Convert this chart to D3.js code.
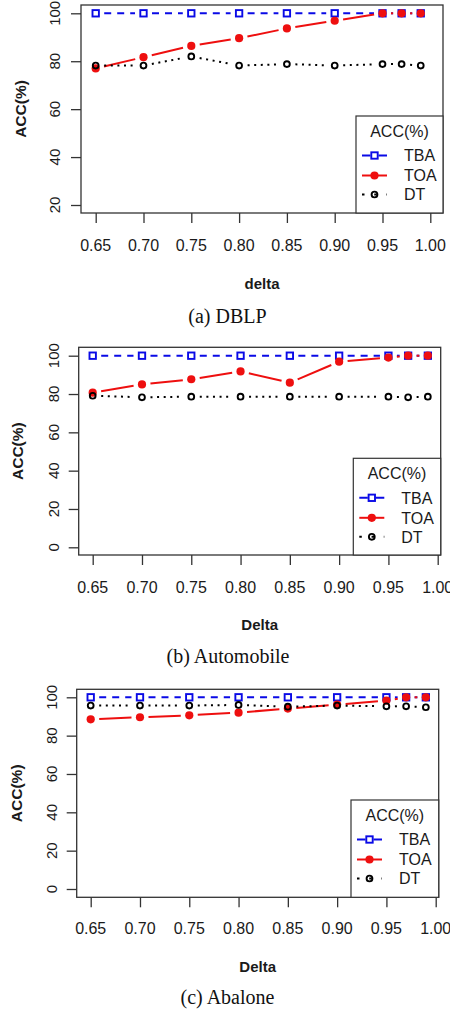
<!DOCTYPE html>
<html>
<head>
<meta charset="utf-8">
<script src="https://cdn.jsdelivr.net/npm/d3@7/dist/d3.min.js"></script>
<style>
  html, body { margin: 0; padding: 0; background: #fff; }
  svg { display: block; }
</style>
</head>
<body>
<svg id="chart" width="450" height="1014"></svg>
<script>
// ---------------- DATA ----------------
const deltas = [0.65, 0.70, 0.75, 0.80, 0.85, 0.90, 0.95, 0.97, 0.99];
const xTickValues = [0.65, 0.70, 0.75, 0.80, 0.85, 0.90, 0.95, 1.00];
const seriesNames = ["TBA", "TOA", "DT"];
const legendTitle = "ACC(%)";
const yTitle = "ACC(%)";

// (a) DBLP
const dblpTBA = [100, 100, 100, 100, 100, 100, 100, 100, 100];
const dblpTOA = [77.0, 81.7, 86.4, 89.6, 93.7, 96.9, 100, 100, 100];
const dblpDT  = [78.2, 78.2, 82.0, 78.2, 78.8, 78.2, 78.8, 78.8, 78.2];
const dblpYTicks = [20, 40, 60, 80, 100];

// (b) Automobile
const autoTBA = [100, 100, 100, 100, 100, 100, 100, 100, 100];
const autoTOA = [80.7, 85.0, 87.7, 91.8, 85.9, 96.9, 99.0, 100, 100];
const autoDT  = [79.1, 78.3, 78.6, 78.6, 78.6, 78.6, 78.6, 78.3, 78.6];
const autoYTicks = [0, 20, 40, 60, 80, 100];

// (c) Abalone
const abaTBA = [100, 100, 100, 100, 100, 100, 100, 100, 100];
const abaTOA = [88.5, 89.6, 90.6, 92.0, 94.1, 96.2, 98.3, 100, 100];
const abaDT  = [95.7, 95.7, 95.7, 96.0, 95.1, 95.7, 95.3, 95.3, 94.8];
const abaYTicks = [0, 20, 40, 60, 80, 100];

const panelsData = [
  { caption: "(a) DBLP", xTitle: "delta", yDomain: [20, 100], yTicks: dblpYTicks,
    series: [dblpTBA, dblpTOA, dblpDT] },
  { caption: "(b) Automobile", xTitle: "Delta", yDomain: [0, 100], yTicks: autoYTicks,
    series: [autoTBA, autoTOA, autoDT] },
  { caption: "(c) Abalone", xTitle: "Delta", yDomain: [0, 100], yTicks: abaYTicks,
    series: [abaTBA, abaTOA, abaDT] }
];

// ---------------- LAYOUT ----------------
const layouts = [
  { box: [81, 5, 443, 213], xr: [95.7, 430.3], yr: [205, 13.3],
    xTickY: 251, xTitleY: 288.5, capY: 323, capX: 227.5, yLabX: 60, yTitleX: 26,
    leg: [356, 116] },
  { box: [78.7, 347.3, 440.7, 555], xr: [92.7, 437.7], yr: [547.3, 355.7],
    xTickY: 592.5, xTitleY: 629.5, capY: 663, capX: 228, yLabX: 59, yTitleX: 23,
    leg: [353.3, 458.3] },
  { box: [76.7, 689.3, 438.7, 897.3], xr: [90.7, 435.7], yr: [889, 697.3],
    xTickY: 934, xTitleY: 972, capY: 1004, capX: 227.5, yLabX: 57, yTitleX: 22,
    leg: [351, 800] }
];

const styles = [
  { color: "#0a0ae6", dash: "7,6", legDash: "8.5,8", marker: "square" },
  { color: "#ee0f0f", dash: null, legDash: null, marker: "dot" },
  { color: "#000000", dash: "2,4.6", legDash: "2.5,9.75", marker: "circle" }
];

const sans = "'Liberation Sans', Arial, Helvetica, sans-serif";
const serif = "'Liberation Serif', 'Times New Roman', serif";
const axisCol = "#333";
const textCol = "#1a1a1a";
const GAP = 8.5;

const svg = d3.select("#chart");

function drawMarker(g, type, x, y, color) {
  if (type === "square") {
    g.append("rect").attr("x", x - 3.2).attr("y", y - 3.2)
      .attr("width", 6.4).attr("height", 6.4)
      .attr("fill", "none").attr("stroke", color).attr("stroke-width", 1.9);
  } else if (type === "dot") {
    g.append("circle").attr("cx", x).attr("cy", y).attr("r", 4.1).attr("fill", color);
  } else {
    g.append("circle").attr("cx", x).attr("cy", y).attr("r", 2.9)
      .attr("fill", "none").attr("stroke", color).attr("stroke-width", 1.9);
  }
}

panelsData.forEach((pd, pi) => {
  const L = layouts[pi];
  const [bx0, by0, bx1, by1] = L.box;
  const x = d3.scaleLinear().domain([0.65, 1.00]).range(L.xr);
  const y = d3.scaleLinear().domain(pd.yDomain).range(L.yr);
  const g = svg.append("g");

  // plot box
  g.append("rect").attr("x", bx0).attr("y", by0)
    .attr("width", bx1 - bx0).attr("height", by1 - by0)
    .attr("fill", "none").attr("stroke", axisCol).attr("stroke-width", 1.3);

  // x axis ticks
  const xa = g.append("g").attr("transform", `translate(0,${by1})`)
    .call(d3.axisBottom(x).tickValues(xTickValues).tickSize(10).tickFormat(""));
  xa.select(".domain").remove();
  xa.selectAll("line").attr("stroke", axisCol).attr("stroke-width", 1.3);
  g.selectAll(null).data(xTickValues).enter().append("text")
    .attr("x", d => x(d)).attr("y", L.xTickY)
    .attr("text-anchor", "middle").attr("font-family", sans).attr("font-size", 16)
    .attr("fill", textCol).text(d => d3.format(".2f")(d));

  // y axis ticks
  const ya = g.append("g").attr("transform", `translate(${bx0},0)`)
    .call(d3.axisLeft(y).tickValues(pd.yTicks).tickSize(10).tickFormat(""));
  ya.select(".domain").remove();
  ya.selectAll("line").attr("stroke", axisCol).attr("stroke-width", 1.3);
  g.selectAll(null).data(pd.yTicks).enter().append("text")
    .attr("transform", d => `translate(${L.yLabX},${y(d)}) rotate(-90)`)
    .attr("text-anchor", "middle").attr("font-family", sans).attr("font-size", 15)
    .attr("fill", textCol).text(d => d);

  // titles
  g.append("text").attr("x", (bx0 + bx1) / 2).attr("y", L.xTitleY)
    .attr("text-anchor", "middle").attr("font-family", sans).attr("font-size", 15)
    .attr("font-weight", "bold").attr("fill", textCol).text(pd.xTitle);
  g.append("text")
    .attr("transform", `translate(${L.yTitleX},${(by0 + by1) / 2}) rotate(-90)`)
    .attr("text-anchor", "middle").attr("font-family", sans).attr("font-size", 15.5)
    .attr("font-weight", "bold").attr("fill", textCol).text(yTitle);
  g.append("text").attr("x", L.capX).attr("y", L.capY)
    .attr("text-anchor", "middle").attr("font-family", serif).attr("font-size", 20)
    .attr("fill", "#111").text(pd.caption);

  // series (type "b": segments with gaps around points)
  pd.series.forEach((vals, si) => {
    const st = styles[si];
    const sg = g.append("g");
    const pts = vals.map((v, i) => [x(deltas[i]), y(v)]);
    for (let i = 0; i < pts.length - 1; i++) {
      const [x1, y1] = pts[i], [x2, y2] = pts[i + 1];
      const dx = x2 - x1, dy = y2 - y1, d = Math.hypot(dx, dy);
      if (d <= 2 * GAP) continue;
      const ux = dx / d, uy = dy / d;
      const ln = sg.append("line")
        .attr("x1", x1 + ux * GAP).attr("y1", y1 + uy * GAP)
        .attr("x2", x2 - ux * GAP).attr("y2", y2 - uy * GAP)
        .attr("stroke", st.color).attr("stroke-width", 2);
      if (st.dash) ln.attr("stroke-dasharray", st.dash);
    }
    pts.forEach(p => drawMarker(sg, st.marker, p[0], p[1], st.color));
  });

  // legend
  const [lx, ly] = L.leg;
  const lg = g.append("g");
  lg.append("rect").attr("x", lx).attr("y", ly)
    .attr("width", bx1 - lx).attr("height", by1 - ly)
    .attr("fill", "#fff").attr("stroke", axisCol).attr("stroke-width", 1.2);
  lg.append("text").attr("x", (lx + bx1) / 2).attr("y", ly + 15 + 5.7)
    .attr("text-anchor", "middle").attr("font-family", sans).attr("font-size", 16)
    .attr("fill", textCol).text(legendTitle);
  const rowOff = [39.5, 59.5, 78.5];
  seriesNames.forEach((name, si) => {
    const st = styles[si];
    const cy = ly + rowOff[si];
    const ln = lg.append("line").attr("x1", lx + 6).attr("x2", lx + 31)
      .attr("y1", cy).attr("y2", cy).attr("stroke", st.color).attr("stroke-width", 2);
    if (st.legDash) ln.attr("stroke-dasharray", st.legDash);
    drawMarker(lg, st.marker, lx + 18.5, cy, st.color);
    lg.append("text").attr("x", lx + 48).attr("y", cy + 5.7)
      .attr("font-family", sans).attr("font-size", 16).attr("fill", textCol).text(name);
  });
});
</script>
</body>
</html>
